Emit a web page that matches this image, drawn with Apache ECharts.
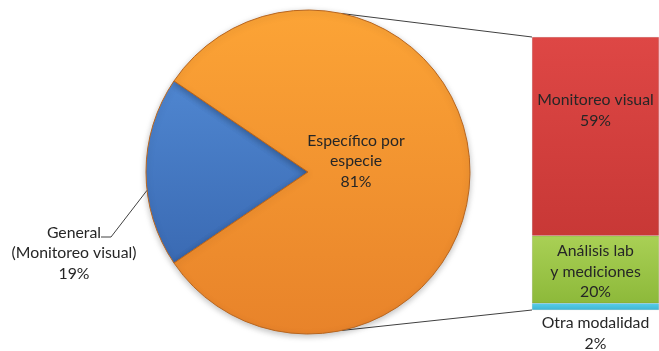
<!DOCTYPE html>
<html>
<head>
<meta charset="utf-8">
<script src="https://cdn.jsdelivr.net/npm/echarts@6/dist/echarts.min.js"></script>
<style>
  html, body { margin: 0; padding: 0; background: #fff; }
  #chart { width: 659px; height: 351px; }
</style>
</head>
<body>
<div id="chart"></div>
<script>
// Main pie: general vs. species-specific monitoring
const pieNames = ['General\n(Monitoreo visual)', 'Específico por\nespecie'];
const pieValues = [19, 81];

// Breakdown of the species-specific slice (stacked bottom -> top)
const barNames = ['Otra modalidad', 'Análisis lab\ny mediciones', 'Monitoreo visual'];
const barValues = [2, 20, 59];

const FONT = 'Lato, "Noto Sans", sans-serif';
const TEXT = '#262626';
const FS = 15.8, LH = 20.5;

// Pie geometry
const PIE_CX = 308, PIE_CY = 172, PIE_R = 162;
const genShare = pieValues[0] / (pieValues[0] + pieValues[1]);
const startAngle = 180 + genShare * 180; // centre the general slice on the left

// Breakdown bar area (the bar fills the grid: its axis spans 0..specific share)
const GRID = { left: 532, top: 37, width: 142, height: 273 };

function grad(top, bottom) {
  return new echarts.graphic.LinearGradient(0, 0, 0, 1, [
    { offset: 0, color: top }, { offset: 1, color: bottom }
  ]);
}

const pieColors = [grad('#4F86D0', '#3A6AB3'), grad('#FCA436', '#E8832A')];
const barColors = [grad('#5ACFEA', '#3DB5D3'), grad('#A9D055', '#8DB93A'), grad('#DE4745', '#C83836')];

const chart = echarts.init(document.getElementById('chart'), null, { renderer: 'canvas' });

const barSeries = barValues.map((v, i) => ({
  type: 'bar',
  stack: 'detail',
  barWidth: '100%',
  data: [v],
  itemStyle: { color: barColors[i], borderColor: 'rgba(0,0,0,0.15)', borderWidth: 0.5 },
  label: {
    show: true,
    position: i === 0 ? 'bottom' : 'inside',
    distance: 3,
    offset: i === 2 ? [0, -26] : (i === 1 ? [0, 2] : [0, 0]),
    formatter: () => barNames[i] + '\n' + v + '%',
    fontFamily: FONT, fontSize: FS, lineHeight: LH, color: TEXT
  }
}));

// Leader line for the general slice label
const la = (180 + 6.5) * Math.PI / 180;
const lx = PIE_CX + PIE_R * Math.cos(la), ly = PIE_CY - PIE_R * Math.sin(la);

// Connector lines from the split slice to the top and bottom of the breakdown bar
const ang = 78 * Math.PI / 180;
const pTop = [PIE_CX + PIE_R * Math.cos(ang), PIE_CY - PIE_R * Math.sin(ang)];
const pBot = [PIE_CX + PIE_R * Math.cos(ang), PIE_CY + PIE_R * Math.sin(ang)];
const lineStyle = { stroke: '#404040', lineWidth: 1, fill: null };

chart.setOption({
  animation: false,
  grid: Object.assign({ containLabel: false }, GRID),
  xAxis: { type: 'category', data: ['detalle'], show: false },
  yAxis: { type: 'value', min: 0, max: pieValues[1], show: false },
  graphic: [
    { type: 'line', z: -1, shape: { x1: pTop[0], y1: pTop[1], x2: GRID.left, y2: GRID.top }, style: lineStyle },
    { type: 'line', z: -1, shape: { x1: pBot[0], y1: pBot[1], x2: GRID.left, y2: GRID.top + GRID.height }, style: lineStyle },
    { type: 'polyline', z: 10, shape: { points: [[lx, ly], [111, 237], [101, 237]] }, style: lineStyle }
  ],
  series: [
    {
      type: 'pie',
      center: [PIE_CX, PIE_CY],
      radius: PIE_R,
      startAngle: startAngle,
      clockwise: true,
      data: pieNames.map((n, i) => ({ name: n, value: pieValues[i], itemStyle: { color: pieColors[i] } })),
      itemStyle: {
        borderColor: '#B8651E', borderWidth: 1,
        shadowBlur: 6, shadowColor: 'rgba(0,0,0,0.25)', shadowOffsetY: 2
      },
      label: {
        show: true,
        position: 'inside',
        formatter: '{b}\n{d}%',
        fontFamily: FONT, fontSize: FS, lineHeight: LH, color: TEXT, align: 'center'
      },
      labelLine: { show: false },
      labelLayout: function (p) {
        if (p.dataIndex === 1) return { dx: -36, dy: -11 };
        // general slice: label sits below-left of the pie
        return { x: 74, y: 253, align: 'center', verticalAlign: 'middle' };
      },
      emphasis: { disabled: true }
    },
    ...barSeries
  ]
});
</script>
</body>
</html>
